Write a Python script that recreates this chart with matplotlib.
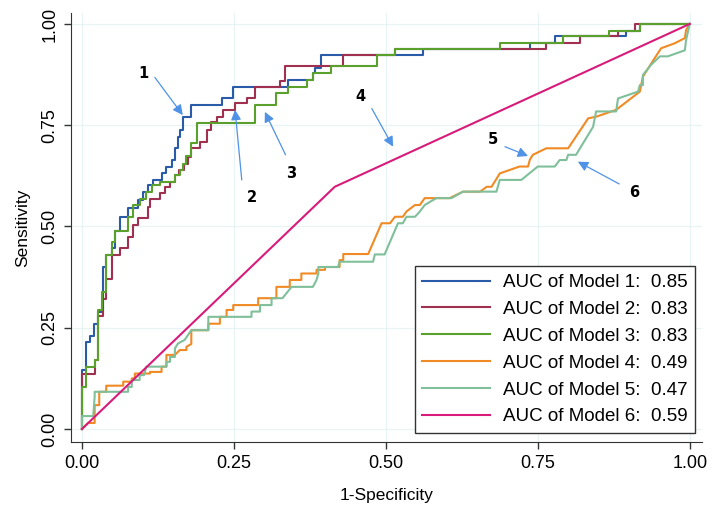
import matplotlib
matplotlib.use("Agg")
import matplotlib.pyplot as plt

plt.rcParams['font.family'] = ['Liberation Sans', 'DejaVu Sans']

"""ROC curve vertices read off the picture (1-specificity, sensitivity)"""
# models 1-3: step curves, each point = (x where it rises, new level)
model1 = [(0, 0), (0, 0.146), (0.0066, 0.216), (0.014, 0.23), (0.02, 0.26), (0.026, 0.29),
          (0.034, 0.40), (0.039, 0.43), (0.05, 0.446), (0.054, 0.49), (0.0625, 0.524),
          (0.076, 0.545), (0.093, 0.566), (0.10, 0.585), (0.109, 0.602), (0.117, 0.615),
          (0.131, 0.631), (0.139, 0.648), (0.1475, 0.664), (0.153, 0.694), (0.158, 0.722),
          (0.161, 0.738), (0.166, 0.771), (0.18, 0.80), (0.23, 0.816), (0.249, 0.845),
          (0.339, 0.862), (0.38, 0.878), (0.383, 0.891), (0.394, 0.923), (0.561, 0.937),
          (0.737, 0.954), (0.778, 0.969), (0.896, 0.983), (0.918, 1.0), (1.0, 1.0)]

model2 = [(0, 0), (0, 0.137), (0.021, 0.17), (0.027, 0.28), (0.035, 0.32), (0.04, 0.37),
          (0.049, 0.43), (0.0625, 0.446), (0.076, 0.475), (0.084, 0.504), (0.093, 0.52),
          (0.109, 0.549), (0.112, 0.569), (0.128, 0.582), (0.136, 0.598), (0.145, 0.611),
          (0.153, 0.627), (0.16, 0.64), (0.168, 0.655), (0.175, 0.672), (0.18, 0.693),
          (0.194, 0.709), (0.205, 0.738), (0.213, 0.759), (0.2215, 0.771), (0.232, 0.788),
          (0.252, 0.804), (0.271, 0.816), (0.285, 0.845), (0.326, 0.858), (0.334, 0.895),
          (0.43, 0.923), (0.515, 0.937), (0.764, 0.954), (0.819, 0.969), (0.882, 0.983),
          (0.9095, 1.0), (1.0, 1.0)]

model3 = [(0, 0), (0, 0.104), (0.0066, 0.154), (0.021, 0.17), (0.027, 0.294), (0.033, 0.339),
          (0.04, 0.43), (0.049, 0.462), (0.054, 0.49), (0.076, 0.524), (0.084, 0.553),
          (0.095, 0.569), (0.105, 0.586), (0.115, 0.602), (0.128, 0.611), (0.153, 0.627),
          (0.161, 0.64), (0.166, 0.655), (0.172, 0.675), (0.18, 0.705), (0.1886, 0.755),
          (0.285, 0.80), (0.32, 0.829), (0.339, 0.845), (0.37, 0.862), (0.38, 0.878),
          (0.41, 0.895), (0.485, 0.923), (0.515, 0.937), (0.6875, 0.954), (0.792, 0.969),
          (0.868, 0.983), (0.918, 1.0), (1.0, 1.0)]

# models 4-5: plain polylines (ties give diagonal pieces)
model4 = [(0, 0), (0.01, 0.015), (0.021, 0.015), (0.021, 0.059), (0.0285, 0.059), (0.0285, 0.092),
          (0.04, 0.092), (0.04, 0.107), (0.068, 0.107), (0.068, 0.117), (0.082, 0.117),
          (0.082, 0.125), (0.087, 0.125), (0.087, 0.137), (0.112, 0.137), (0.112, 0.141),
          (0.131, 0.141), (0.131, 0.154), (0.139, 0.154), (0.139, 0.183), (0.153, 0.183),
          (0.161, 0.195), (0.172, 0.195), (0.172, 0.203), (0.18, 0.21), (0.18, 0.244),
          (0.208, 0.244), (0.208, 0.26), (0.227, 0.26), (0.227, 0.277), (0.238, 0.277),
          (0.238, 0.294), (0.249, 0.294), (0.249, 0.306), (0.29, 0.306), (0.29, 0.323),
          (0.32, 0.323), (0.32, 0.351), (0.342, 0.351), (0.342, 0.368), (0.361, 0.368),
          (0.361, 0.384), (0.386, 0.384), (0.386, 0.393), (0.40, 0.393), (0.40, 0.40),
          (0.424, 0.40), (0.424, 0.417), (0.43, 0.417), (0.43, 0.432), (0.471, 0.432),
          (0.493, 0.508), (0.507, 0.508), (0.515, 0.524), (0.528, 0.524), (0.534, 0.537),
          (0.548, 0.553), (0.556, 0.553), (0.564, 0.57), (0.605, 0.57), (0.627, 0.586),
          (0.655, 0.586), (0.666, 0.598), (0.674, 0.598), (0.6875, 0.631), (0.72, 0.648),
          (0.734, 0.648), (0.737, 0.665), (0.742, 0.677), (0.764, 0.693), (0.80, 0.693),
          (0.833, 0.767), (0.846, 0.771), (0.879, 0.788), (0.918, 0.833), (0.923, 0.87),
          (0.94, 0.91), (0.953, 0.94), (0.975, 0.952), (0.992, 0.965), (0.994, 0.985), (1.0, 1.0)]

model5 = [(0, 0), (0, 0.032), (0.0186, 0.032), (0.021, 0.08), (0.021, 0.092), (0.076, 0.092),
          (0.076, 0.104), (0.082, 0.104), (0.082, 0.121), (0.095, 0.121), (0.095, 0.133),
          (0.102, 0.133), (0.106, 0.154), (0.139, 0.154), (0.139, 0.166), (0.145, 0.166),
          (0.145, 0.178), (0.153, 0.178), (0.153, 0.199), (0.158, 0.211), (0.169, 0.22),
          (0.18, 0.244), (0.208, 0.244), (0.208, 0.277), (0.279, 0.277), (0.279, 0.29),
          (0.293, 0.29), (0.293, 0.306), (0.312, 0.306), (0.312, 0.323), (0.33, 0.323),
          (0.345, 0.351), (0.38, 0.351), (0.386, 0.368), (0.389, 0.384), (0.389, 0.40),
          (0.4215, 0.40), (0.424, 0.413), (0.479, 0.413), (0.482, 0.431), (0.498, 0.431),
          (0.52, 0.508), (0.528, 0.508), (0.534, 0.524), (0.548, 0.524), (0.556, 0.537),
          (0.564, 0.553), (0.583, 0.57), (0.608, 0.57), (0.627, 0.586), (0.682, 0.586),
          (0.6875, 0.615), (0.723, 0.615), (0.75, 0.648), (0.778, 0.648), (0.786, 0.664),
          (0.797, 0.664), (0.80, 0.677), (0.813, 0.677), (0.841, 0.746), (0.846, 0.784),
          (0.879, 0.784), (0.882, 0.816), (0.915, 0.833), (0.918, 0.849), (0.923, 0.849),
          (0.923, 0.874), (0.937, 0.90), (0.951, 0.92), (0.964, 0.92), (0.992, 0.935),
          (0.994, 0.96), (1.0, 1.0)]

model6 = [(0, 0), (0.416, 0.598), (1.0, 1.0)]

auc = [0.85, 0.83, 0.83, 0.49, 0.47, 0.59]
colors = ['#2a5ba8', '#a0304f', '#5aa02c', '#f08a24', '#7fbf9a', '#d81b7a']

# arrow annotations: label text, label pos, arrow tail, arrow head (data coords)
ann_labels = ['1', '2', '3', '4', '5', '6']
ann_text_xy = [(0.102, 0.877), (0.279, 0.571), (0.345, 0.631), (0.458, 0.822), (0.676, 0.714), (0.909, 0.584)]
ann_tail = [(0.12, 0.868), (0.263, 0.615), (0.335, 0.677), (0.477, 0.791), (0.696, 0.697), (0.884, 0.605)]
ann_head = [(0.166, 0.775), (0.252, 0.788), (0.301, 0.783), (0.512, 0.697), (0.734, 0.674), (0.816, 0.66)]

fig = plt.figure(figsize=(7.14, 5.16), dpi=100)
ax = fig.add_axes([0.0994, 0.1434, 0.8836, 0.8314])

for i, m in enumerate([model1, model2, model3, model4, model5, model6]):
    xs = [p[0] for p in m]
    ys = [p[1] for p in m]
    style = 'steps-post' if i < 3 else 'default'
    ax.plot(xs, ys, color=colors[i], lw=1.5, drawstyle=style,
            label='AUC of Model %d:  %.2f' % (i + 1, auc[i]))

for lab, txy, tail, head in zip(ann_labels, ann_text_xy, ann_tail, ann_head):
    ax.text(txy[0], txy[1], lab, fontsize=10.5, fontweight='bold', ha='center', va='center',
            family=['DejaVu Sans'])
    ax.annotate('', xy=head, xytext=tail,
                arrowprops=dict(arrowstyle='-|>', color='#4f92e6', lw=0.9,
                                mutation_scale=15, shrinkA=0, shrinkB=0))

ax.set_xlim(-0.018, 1.02)
ax.set_ylim(-0.032, 1.027)
ticks = [0, 0.25, 0.5, 0.75, 1.0]
ax.set_xticks(ticks)
ax.set_yticks(ticks)
ax.set_xticklabels(['%.2f' % t for t in ticks], fontsize=13)
ax.set_yticklabels(['%.2f' % t for t in ticks], fontsize=13, rotation=90, va='center')
ax.tick_params(direction='out', length=5, width=1, color='#333333', pad=4)
ax.grid(True, color='#e8f3f4', lw=0.9)
ax.set_axisbelow(True)
for s in ['top', 'right']:
    ax.spines[s].set_visible(False)
for s in ['left', 'bottom']:
    ax.spines[s].set_color('#333333')
ax.set_xlabel('1-Specificity', fontsize=12.5, labelpad=12)
ax.set_ylabel('Sensitivity', fontsize=12.5, labelpad=8)

leg = ax.legend(loc='lower right', bbox_to_anchor=(0.989, 0.021), borderaxespad=0,
                fontsize=13.5, handlelength=3.6, handletextpad=0.7, labelspacing=0.52,
                fancybox=False, framealpha=1, edgecolor='#333333', borderpad=0.4)
leg.get_frame().set_linewidth(1)

fig.savefig('out.png', dpi=100)
